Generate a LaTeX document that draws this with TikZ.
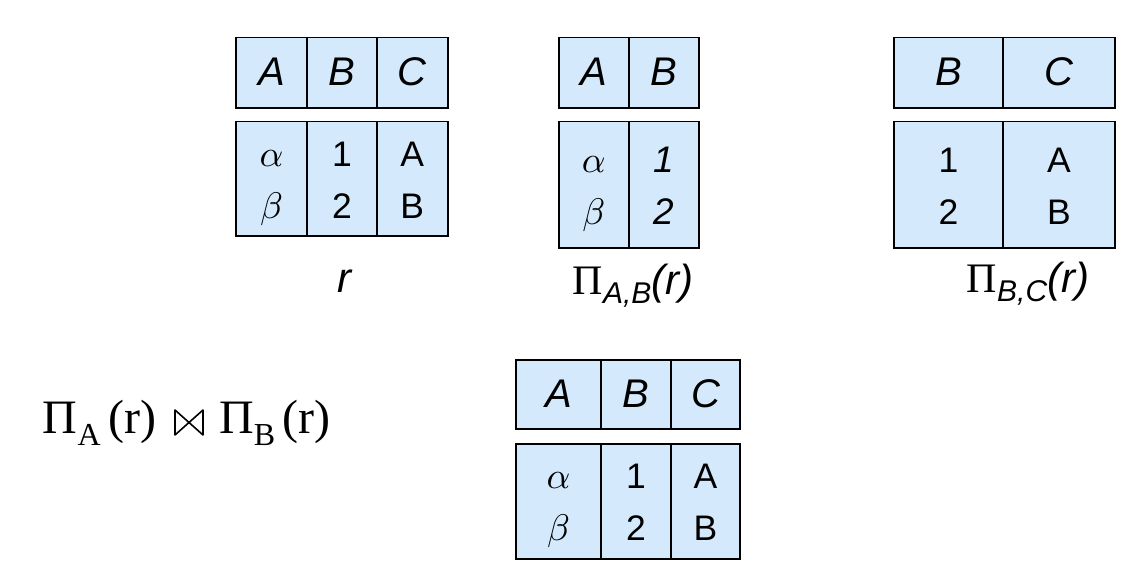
\documentclass[tikz,border=0pt]{standalone}
\usepackage{graphicx}
\usepackage{fontspec}
\setmainfont{Liberation Sans}
\newfontfamily\serifTNR{Liberation Serif}
\definecolor{cellblue}{RGB}{212,234,252}
\newcommand{\hstrut}{\rule[-10pt]{0pt}{46pt}}
\newcommand{\twol}[2]{\rule{0pt}{40pt}#1\\#2\rule[-13pt]{0pt}{13pt}}
\newcommand{\gk}[1]{\scalebox{3.7}{\normalsize$#1$}}
\tikzset{
  cellbox/.style={draw=black, line width=1.8pt, fill=cellblue, inner sep=0pt,
    anchor=north west, align=center},
  headtxt/.style={font=\fontsize{40}{48}\selectfont\itshape},
  bodytxt/.style={font=\fontsize{35.5}{52}\selectfont},
  lbl/.style={inner sep=0pt, anchor=base, font=\fontsize{42}{48}\selectfont},
  formula/.style={inner sep=0pt, anchor=base west, font=\fontsize{48}{56}\selectfont\serifTNR},
  bowtie/.style={draw=black, line width=1.6pt, line join=round}
}
\begin{document}
\begin{tikzpicture}[x=1pt,y=-1pt]
\useasboundingbox[fill=white] (0,0) rectangle (1140,580);
% table r
\node[cellbox, headtxt, minimum width=70.7pt, minimum height=70.6pt] (rA) at (235.3,36.7) {\hstrut A};
\node[cellbox, headtxt, minimum width=70pt, minimum height=70.6pt] (rB) at (306,36.7) {\hstrut B};
\node[cellbox, headtxt, minimum width=70.7pt, minimum height=70.6pt] (rC) at (376,36.7) {\hstrut C};
\node[cellbox, bodytxt, minimum width=70.7pt, minimum height=114.3pt] (r1) at (235.3,120.7) {\twol{\gk{\alpha}}{\gk{\beta}}};
\node[cellbox, bodytxt, minimum width=70pt, minimum height=114.3pt] (r2) at (306,120.7) {\twol{1}{2}};
\node[cellbox, bodytxt, minimum width=70.7pt, minimum height=114.3pt] (r3) at (376,120.7) {\twol{A}{B}};
\node[lbl] (lr) at (344,292) {\itshape r};
% table Pi_{A,B}(r)
\node[cellbox, headtxt, minimum width=70.3pt, minimum height=70.6pt] (abA) at (557.7,36.7) {\hstrut A};
\node[cellbox, headtxt, minimum width=70.3pt, minimum height=70.6pt] (abB) at (628,36.7) {\hstrut B};
\node[cellbox, bodytxt, minimum width=70.3pt, minimum height=126.6pt] (ab1) at (557.7,120.7) {\twol{\gk{\alpha}}{\gk{\beta}}};
\node[cellbox, bodytxt, font=\fontsize{37}{52}\selectfont\itshape, minimum width=70.3pt, minimum height=126.6pt] (ab2) at (628,120.7) {\twol{1}{2}};
\node[lbl] (lab) at (633,294) {{\serifTNR Π}\raisebox{-9pt}{\fontsize{30}{30}\selectfont\itshape A,B}{\itshape(r)}};
% table Pi_{B,C}(r)
\node[cellbox, headtxt, minimum width=108.7pt, minimum height=70.6pt] (bcB) at (893.3,36.7) {\hstrut B};
\node[cellbox, headtxt, minimum width=112pt, minimum height=70.6pt] (bcC) at (1002,36.7) {\hstrut C};
\node[cellbox, bodytxt, minimum width=108.7pt, minimum height=126.6pt] (bc1) at (893.3,120.7) {\twol{1}{2}};
\node[cellbox, bodytxt, minimum width=112pt, minimum height=126.6pt] (bc2) at (1002,120.7) {\twol{A}{B}};
\node[lbl] (lbc) at (1028,292) {{\serifTNR Π}\raisebox{-9pt}{\fontsize{30}{30}\selectfont\itshape B,C}{\itshape(r)}};
% join formula
\node[formula] (jl) at (42.7,433) {Π\raisebox{-12pt}{\fontsize{32}{32}\selectfont A}\,(r)};
\node[formula] (jr) at (219,433) {Π\raisebox{-12pt}{\fontsize{32}{32}\selectfont B}\hspace{7pt}(r)};
\draw[bowtie] (175,410) -- (175,435) -- (203,410) -- (203,435) -- cycle;
% result table
\node[cellbox, headtxt, minimum width=84.7pt, minimum height=68.7pt] (jA) at (515.3,359) {\hstrut A};
\node[cellbox, headtxt, minimum width=70pt, minimum height=68.7pt] (jB) at (600,359) {\hstrut B};
\node[cellbox, headtxt, minimum width=69.3pt, minimum height=68.7pt] (jC) at (670,359) {\hstrut C};
\node[cellbox, bodytxt, minimum width=84.7pt, minimum height=114.4pt] (j1) at (515.3,443.3) {\twol{\gk{\alpha}}{\gk{\beta}}};
\node[cellbox, bodytxt, minimum width=70pt, minimum height=114.4pt] (j2) at (600,443.3) {\twol{1}{2}};
\node[cellbox, bodytxt, minimum width=69.3pt, minimum height=114.4pt] (j3) at (670,443.3) {\twol{A}{B}};
\end{tikzpicture}
\end{document}
